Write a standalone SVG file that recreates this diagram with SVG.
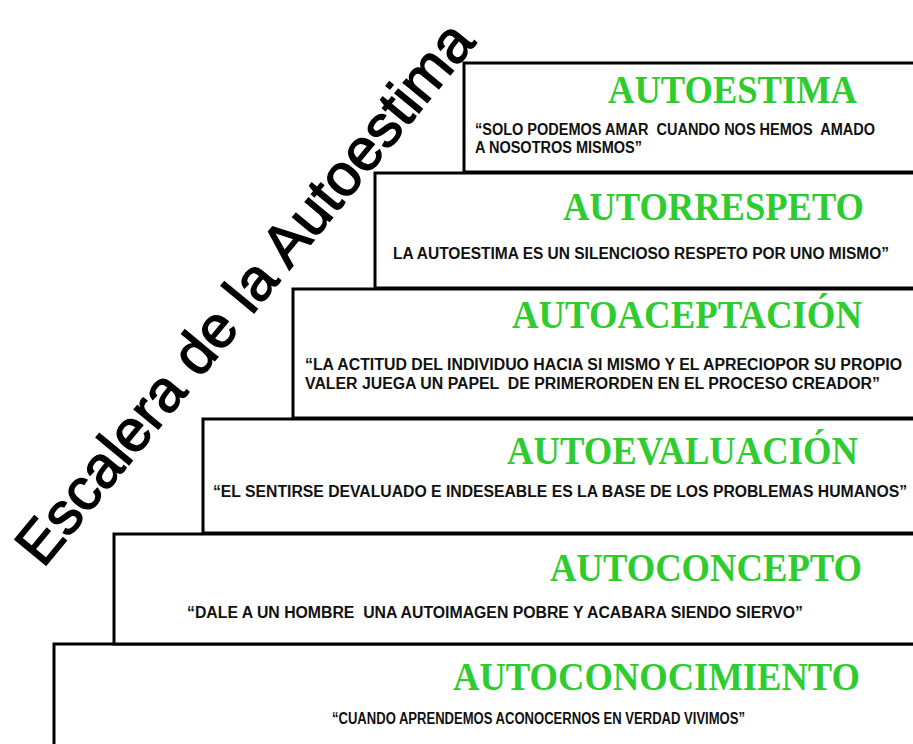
<svg xmlns="http://www.w3.org/2000/svg" width="913" height="744" viewBox="0 0 913 744">
<style>
.box{fill:#fff;stroke:#000;stroke-width:3}
.t{font-family:"Liberation Serif","Times New Roman",serif;font-weight:bold;font-size:39px;fill:#2ecc2e}
.q{font-family:"Liberation Sans",Arial,sans-serif;font-weight:bold;font-size:17px;fill:#111}
.d{font-family:"Liberation Sans",Arial,sans-serif;font-size:59px;fill:#000;stroke:#000;stroke-width:1.4}
</style>
<rect width="913" height="744" fill="#fff"/>
<g id="step6">
<rect class="box" x="54" y="644" width="880" height="120"/>
<text class="t" x="453" y="690" textLength="407" lengthAdjust="spacingAndGlyphs">AUTOCONOCIMIENTO</text>
<text class="q" transform="translate(332,724) scale(0.72,1)" textLength="573.6" lengthAdjust="spacingAndGlyphs">“CUANDO APRENDEMOS ACONOCERNOS EN VERDAD VIVIMOS”</text>
</g>
<g id="step5">
<rect class="box" x="114" y="534" width="820" height="110"/>
<text class="t" x="550" y="581" textLength="312" lengthAdjust="spacingAndGlyphs">AUTOCONCEPTO</text>
<text class="q" transform="translate(187,618) scale(0.72,1)" textLength="855.6" lengthAdjust="spacingAndGlyphs" xml:space="preserve">“DALE A UN HOMBRE  UNA AUTOIMAGEN POBRE Y ACABARA SIENDO SIERVO”</text>
</g>
<g id="step4">
<rect class="box" x="203" y="419" width="730" height="114"/>
<text class="t" x="507" y="464" textLength="351" lengthAdjust="spacingAndGlyphs">AUTOEVALUACIÓN</text>
<text class="q" transform="translate(213,497) scale(0.72,1)" textLength="963.9" lengthAdjust="spacingAndGlyphs">“EL SENTIRSE DEVALUADO E INDESEABLE ES LA BASE DE LOS PROBLEMAS HUMANOS”</text>
</g>
<g id="step3">
<rect class="box" x="293" y="289" width="640" height="129"/>
<text class="t" x="512" y="328" textLength="350" lengthAdjust="spacingAndGlyphs">AUTOACEPTACIÓN</text>
<text class="q" transform="translate(305,370) scale(0.72,1)" textLength="829.2" lengthAdjust="spacingAndGlyphs">“LA ACTITUD DEL INDIVIDUO HACIA SI MISMO Y EL APRECIOPOR SU PROPIO</text>
<text class="q" transform="translate(305,389) scale(0.72,1)" textLength="798.6" lengthAdjust="spacingAndGlyphs" xml:space="preserve">VALER JUEGA UN PAPEL  DE PRIMERORDEN EN EL PROCESO CREADOR”</text>
</g>
<g id="step2">
<rect class="box" x="375" y="173" width="560" height="115"/>
<text class="t" x="563" y="220" textLength="301" lengthAdjust="spacingAndGlyphs">AUTORRESPETO</text>
<text class="q" transform="translate(393,259) scale(0.72,1)" textLength="688.9" lengthAdjust="spacingAndGlyphs">LA AUTOESTIMA ES UN SILENCIOSO RESPETO POR UNO MISMO”</text>
</g>
<g id="step1">
<rect class="box" x="464" y="63" width="470" height="109"/>
<text class="t" x="608" y="103" textLength="249" lengthAdjust="spacingAndGlyphs">AUTOESTIMA</text>
<text class="q" transform="translate(475,135) scale(0.72,1)" textLength="555.6" lengthAdjust="spacingAndGlyphs" xml:space="preserve">“SOLO PODEMOS AMAR  CUANDO NOS HEMOS  AMADO</text>
<text class="q" transform="translate(475,153) scale(0.72,1)" textLength="231.9" lengthAdjust="spacingAndGlyphs">A NOSOTROS MISMOS”</text>
</g>
<g id="title">
<text class="d" transform="translate(43,569) rotate(-50.5)">Escalera de la Autoestima</text>
</g>
<g id="connectors"/>
</svg>
